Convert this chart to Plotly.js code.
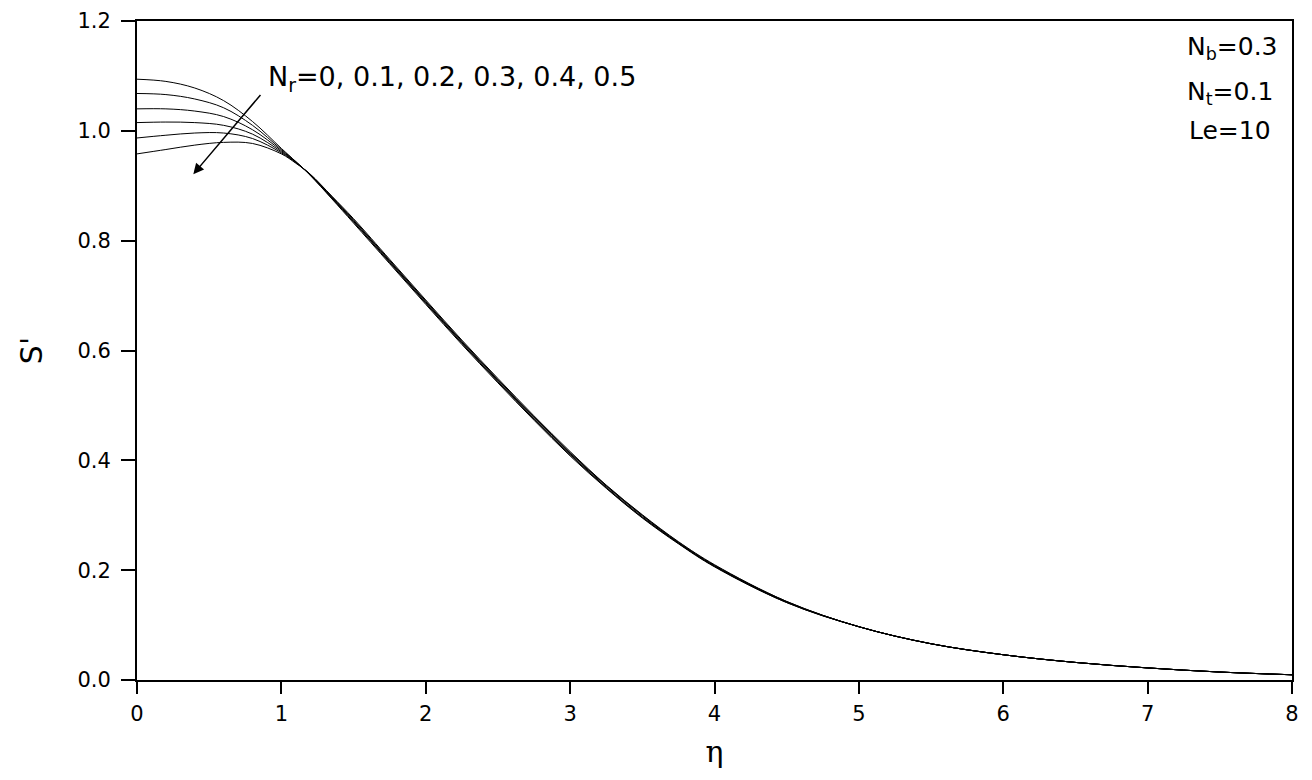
<!DOCTYPE html>
<html>
<head>
<meta charset="utf-8">
<script src="https://cdn.plot.ly/plotly-3.0.1.min.js"></script>
<style>html,body{margin:0;padding:0;background:#fff;}#chart{width:1312px;height:780px;}</style>
</head>
<body>
<div id="chart"></div>
<script>
// eta grid (shared by all series)
const eta = [0, 0.2, 0.4, 0.6, 0.8, 1.0, 1.1, 1.2, 1.35, 1.5, 1.75, 2.0, 2.25, 2.5, 2.75, 3.0, 3.25, 3.5, 3.75, 4.0, 4.5, 5.0, 5.5, 6.0, 6.5, 7.0, 7.5, 8.0];

// S' profiles for Nr = 0 ... 0.5
const nr0  = [1.094, 1.090, 1.078, 1.055, 1.017, 0.968, 0.944, 0.919, 0.876, 0.832, 0.758, 0.684, 0.611, 0.541, 0.473, 0.408, 0.349, 0.295, 0.248, 0.206, 0.141, 0.097, 0.066, 0.046, 0.032, 0.022, 0.0145, 0.0095];
const nr01 = [1.068, 1.066, 1.058, 1.042, 1.010, 0.966, 0.944, 0.919, 0.877, 0.834, 0.760, 0.686, 0.613, 0.543, 0.475, 0.410, 0.350, 0.296, 0.249, 0.207, 0.141, 0.097, 0.066, 0.046, 0.032, 0.022, 0.0145, 0.0095];
const nr02 = [1.040, 1.040, 1.036, 1.026, 1.002, 0.964, 0.943, 0.920, 0.878, 0.835, 0.761, 0.687, 0.614, 0.544, 0.476, 0.411, 0.351, 0.297, 0.249, 0.207, 0.142, 0.097, 0.066, 0.046, 0.032, 0.022, 0.0145, 0.0095];
const nr03 = [1.015, 1.016, 1.015, 1.010, 0.994, 0.962, 0.943, 0.920, 0.879, 0.837, 0.763, 0.689, 0.616, 0.546, 0.478, 0.413, 0.353, 0.299, 0.250, 0.208, 0.142, 0.097, 0.066, 0.046, 0.032, 0.022, 0.0145, 0.0095];
const nr04 = [0.987, 0.992, 0.996, 0.996, 0.986, 0.960, 0.942, 0.921, 0.880, 0.838, 0.764, 0.690, 0.617, 0.547, 0.479, 0.414, 0.354, 0.300, 0.251, 0.209, 0.143, 0.097, 0.066, 0.046, 0.032, 0.022, 0.0145, 0.0095];
const nr05 = [0.958, 0.966, 0.974, 0.979, 0.977, 0.958, 0.941, 0.921, 0.881, 0.840, 0.766, 0.692, 0.619, 0.549, 0.481, 0.416, 0.355, 0.301, 0.252, 0.210, 0.143, 0.097, 0.066, 0.046, 0.032, 0.022, 0.0145, 0.0095];

const seriesNames = ['Nr=0', 'Nr=0.1', 'Nr=0.2', 'Nr=0.3', 'Nr=0.4', 'Nr=0.5'];
const seriesData = [nr0, nr01, nr02, nr03, nr04, nr05];

const xTicks = [0, 1, 2, 3, 4, 5, 6, 7, 8];
const yTicks = [0.0, 0.2, 0.4, 0.6, 0.8, 1.0, 1.2];

const traces = seriesData.map((ys, i) => ({
  x: eta, y: ys, name: seriesNames[i], type: 'scatter', mode: 'lines',
  line: {color: '#000', width: 1, shape: 'spline', smoothing: 1.0},
  showlegend: false, hoverinfo: 'skip'
}));

const font = 'DejaVu Sans, Arial, sans-serif';

const layout = {
  width: 1312, height: 780,
  margin: {l: 137, r: 20, t: 21, b: 100},
  paper_bgcolor: '#fff', plot_bgcolor: '#fff',
  showlegend: false,
  xaxis: {
    range: [0, 8], tickvals: xTicks, ticktext: xTicks.map(String),
    ticks: 'outside', ticklen: 12, tickwidth: 2, tickcolor: '#000',
    showline: true, linewidth: 2, linecolor: '#000', mirror: true,
    showgrid: false, zeroline: false,
    tickfont: {family: font, size: 21, color: '#000'},
    ticklabelstandoff: 2,
    title: {text: 'η', font: {family: 'DejaVu Serif, Liberation Serif, serif', size: 30, color: '#000'}, standoff: 16}
  },
  yaxis: {
    range: [0, 1.2], tickvals: yTicks, ticktext: yTicks.map(v => v.toFixed(1)),
    ticks: 'outside', ticklen: 14, tickwidth: 2, tickcolor: '#000',
    showline: true, linewidth: 2, linecolor: '#000', mirror: true,
    showgrid: false, zeroline: false,
    tickfont: {family: font, size: 21, color: '#000'},
    ticklabelstandoff: 6,
    title: {text: "S'", font: {family: font, size: 30, color: '#000'}, standoff: 26}
  },
  annotations: [
    {x: 0.39, y: 0.921, ax: 0.864, ay: 1.068, xref: 'x', yref: 'y', axref: 'x', ayref: 'y',
     text: '', showarrow: true, arrowhead: 2, arrowsize: 1.4, arrowwidth: 1.5, arrowcolor: '#000'},
    {x: 0.893, y: 1.096, xref: 'x', yref: 'y', xanchor: 'left', yanchor: 'middle', showarrow: false,
     text: 'N<sub>r</sub>=0, 0.1, 0.2, 0.3, 0.4, 0.5', font: {family: font, size: 27, color: '#000'}},
    {x: 7.257, y: 1.150, xref: 'x', yref: 'y', xanchor: 'left', yanchor: 'middle', showarrow: false,
     text: 'N<sub>b</sub>=0.3', font: {family: font, size: 25, color: '#000'}},
    {x: 7.257, y: 1.068, xref: 'x', yref: 'y', xanchor: 'left', yanchor: 'middle', showarrow: false,
     text: 'N<sub>t</sub>=0.1', font: {family: font, size: 25, color: '#000'}},
    {x: 7.27, y: 1.000, xref: 'x', yref: 'y', xanchor: 'left', yanchor: 'middle', showarrow: false,
     text: 'Le=10', font: {family: font, size: 25, color: '#000'}}
  ]
};

Plotly.newPlot('chart', traces, layout, {staticPlot: true, displayModeBar: false});
</script>
</body>
</html>
